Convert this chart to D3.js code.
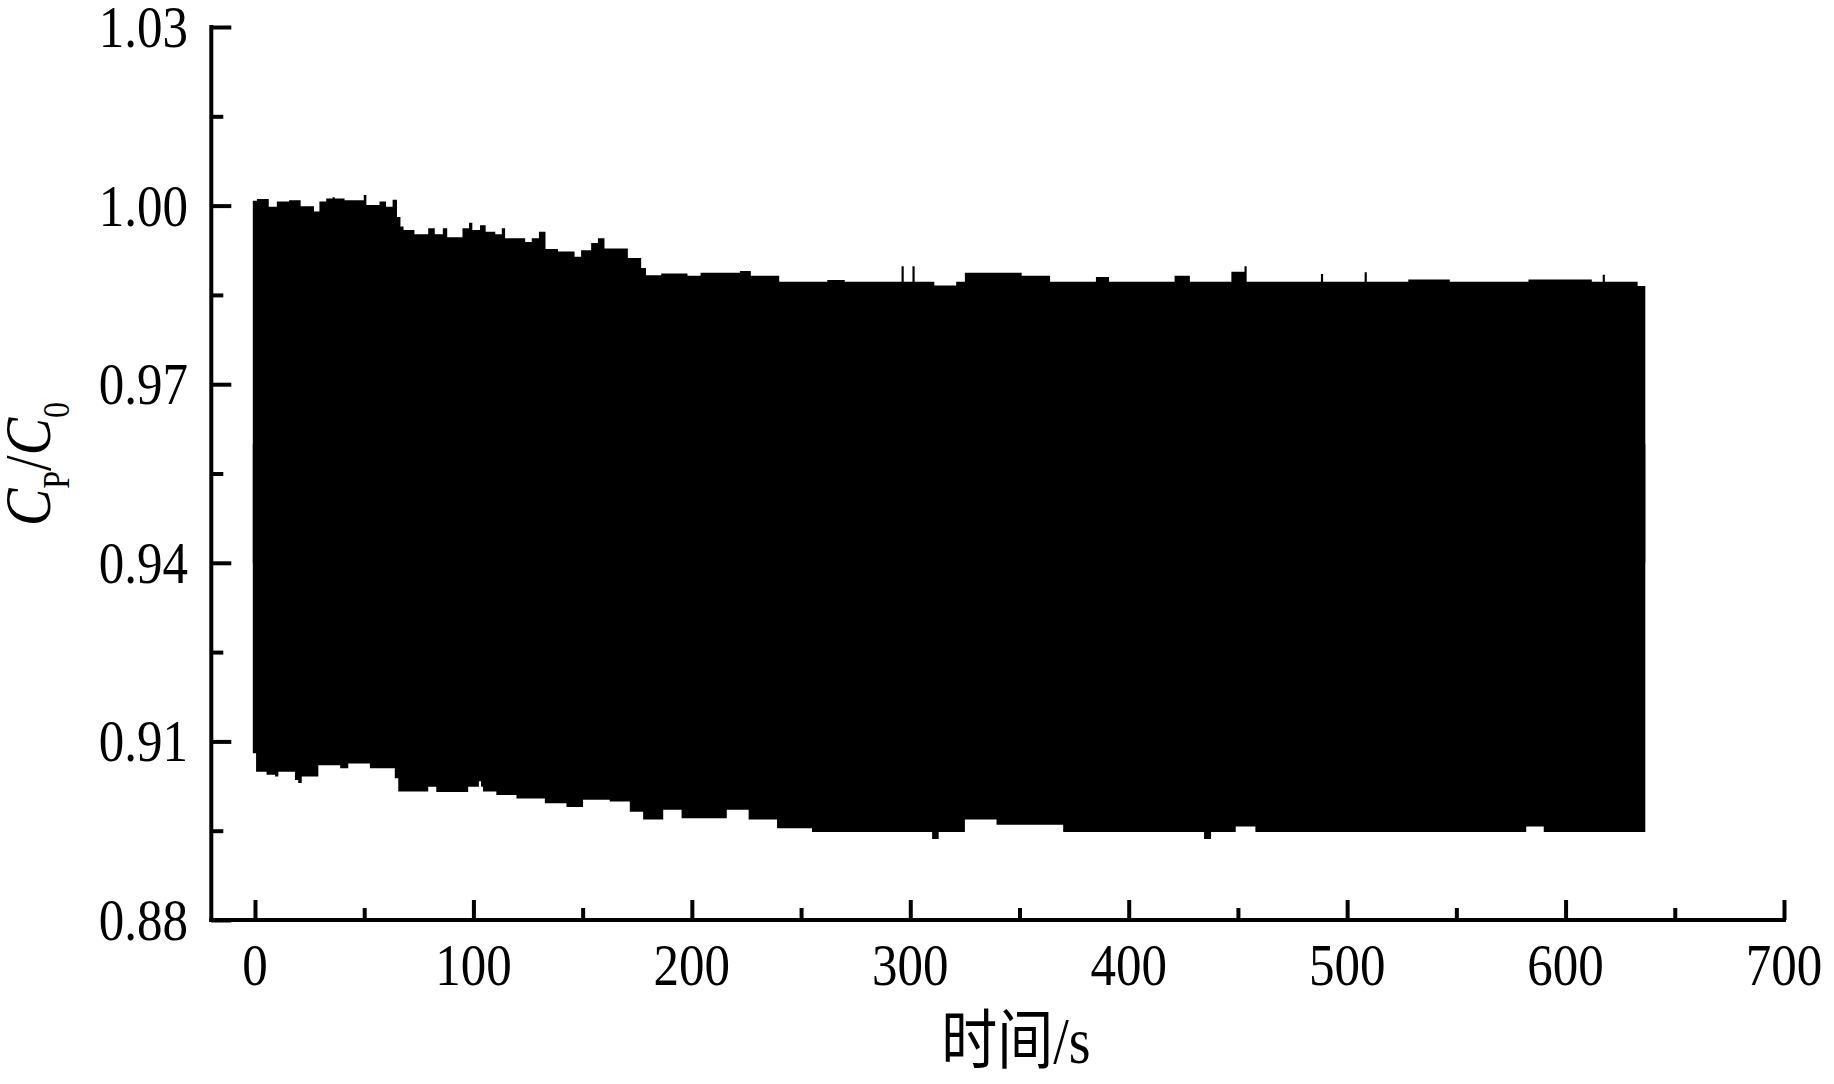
<!DOCTYPE html>
<html lang="zh">

<head>
    <meta charset="utf-8">
    <title>CP/C0</title>
    <script src="https://cdn.jsdelivr.net/npm/d3@7/dist/d3.min.js"></script>
    <style>
        body {
            margin: 0;
            background: #fff;
        }

        .tick-label {
            font-family: "Liberation Serif", "Times New Roman", serif;
            font-size: 51px;
            fill: #000;
        }
    </style>
</head>

<body>
    <script type="text/javascript">
        // upper / lower edge of the band (step after)
        var upperT = [-1, 0.9, 6.3, 10, 15.6, 20.9, 27, 29.5, 32.6, 35.5, 36.5, 41, 49.8, 51, 57, 60, 63, 65, 66.6, 68, 73,
            79.3, 82.3, 86, 88, 95, 98, 99.5, 103, 105.6, 110, 113, 114.5, 123.7, 126.7, 130, 133, 138.7, 146.3, 149.3,
            153.9, 157, 160, 170.7, 176.8, 179, 186, 198, 204, 222, 227, 240, 262, 270, 296, 297, 301, 302, 311, 321,
            325, 351, 364, 385, 391, 421, 428, 447, 453, 454, 488, 489, 508, 509, 528, 547, 583, 612, 617, 618, 633, 636.5];
        var upperV = [1.0008, 1.0011, 0.9998, 1.0007, 1.0009, 0.9999, 0.9990, 1.0007, 1.0012, 1.0014, 1.0012, 1.0009,
            1.0018, 1.0001, 1.0007, 0.9998, 1.0010, 0.9981, 0.9965, 0.9959, 0.9952, 0.9962, 0.9952, 0.9962, 0.9947,
            0.9962, 0.9971, 0.9959, 0.9967, 0.9956, 0.9952, 0.9962, 0.9945, 0.9939, 0.9945, 0.9956, 0.9927, 0.9923,
            0.9914, 0.9925, 0.9937, 0.9945, 0.9928, 0.9912, 0.9895, 0.9883, 0.9886, 0.9882, 0.9887, 0.9890, 0.9882,
            0.9872, 0.9875, 0.9872, 0.9898, 0.9872, 0.9898, 0.9872, 0.9866, 0.9872, 0.9887, 0.9882, 0.9872, 0.9880,
            0.9872, 0.9882, 0.9872, 0.9889, 0.9898, 0.9872, 0.9885, 0.9872, 0.9888, 0.9872, 0.9876, 0.9872, 0.9876,
            0.9872, 0.9884, 0.9872, 0.9865, 0.9865];

        var lowerT = [-1, 0.5, 5.3, 9.2, 10.7, 18.3, 19.8, 21.4, 29, 39, 42.7, 52.6, 64, 65.6, 79.3, 83, 97.6, 102.5,
            103.5, 104.4, 110.5, 119.7, 132.7, 142.6, 150.2, 162.4, 171.6, 177.7, 186.9, 195.3, 216, 226, 239, 255,
            310, 313, 325, 339.5, 370, 434.5, 437.7, 449, 458, 582, 590, 636.5];
        var lowerV = [0.9080, 0.9049, 0.9044, 0.9041, 0.9049, 0.9035, 0.9030, 0.9041, 0.9060, 0.9055, 0.9063, 0.9055,
            0.9038, 0.9016, 0.9024, 0.9015, 0.9024, 0.9033, 0.9024, 0.9016, 0.9010, 0.9004, 0.8996, 0.8990, 0.9002,
            0.8999, 0.8982, 0.8969, 0.8985, 0.8971, 0.8985, 0.8969, 0.8954, 0.8948, 0.8936, 0.8948, 0.8969, 0.8960,
            0.8948, 0.8936, 0.8948, 0.8957, 0.8948, 0.8957, 0.8948, 0.8948];

        var xMajor = [0, 100, 200, 300, 400, 500, 600, 700];
        var xMinor = [50, 150, 250, 350, 450, 550, 650];
        var yMajor = [0.88, 0.91, 0.94, 0.97, 1.00, 1.03];
        var yMinor = [0.895, 0.925, 0.955, 0.985, 1.015];

        var svgWidth = 1834, svgHeight = 1084;
        var stretch = 1.16; // glyphs in the figure are a bit taller than Times

        var svg = d3.select('body')
            .append('svg')
            .attr('width', svgWidth)
            .attr('height', svgHeight);

        var x = d3.scaleLinear().domain([-20, 700]).range([211.3, 1784]);
        var y = d3.scaleLinear().domain([0.88, 1.03]).range([920, 27]);

        function drawBand() {
            var upper = upperT.map((t, i) => ({ t: t, v: upperV[i] }));
            var lower = lowerT.map((t, i) => ({ t: t, v: lowerV[i] }));

            var upArea = d3.area()
                .curve(d3.curveStepAfter)
                .x(d => x(d.t))
                .y0(y(0.94))
                .y1(d => y(d.v));
            var lowArea = d3.area()
                .curve(d3.curveStepAfter)
                .x(d => x(d.t))
                .y0(y(0.96))
                .y1(d => y(d.v));

            svg.append('path').datum(upper).attr('d', upArea).attr('fill', '#000');
            svg.append('path').datum(lower).attr('d', lowArea).attr('fill', '#000');
        }

        function drawAxes() {
            var xb = svg.append('g').attr('transform', 'translate(0,' + y(0.88) + ')');
            xb.call(d3.axisBottom(x).tickValues(xMajor).tickSize(-20).tickSizeOuter(0).tickFormat(''));
            xb.append('g').call(d3.axisBottom(x).tickValues(xMinor).tickSize(-12).tickSizeOuter(0).tickFormat(''));

            var yl = svg.append('g').attr('transform', 'translate(' + x(-20) + ',0)');
            yl.call(d3.axisLeft(y).tickValues(yMajor).tickSize(-20).tickSizeOuter(0).tickFormat(''));
            yl.append('g').call(d3.axisLeft(y).tickValues(yMinor).tickSize(-12).tickSizeOuter(0).tickFormat(''));

            svg.selectAll('.domain').remove();
            svg.selectAll('.tick line').attr('stroke', '#000').attr('stroke-width', 4);

            // axis lines
            svg.append('line')
                .attr('x1', x(-20)).attr('x2', x(700))
                .attr('y1', y(0.88)).attr('y2', y(0.88))
                .attr('stroke', '#000').attr('stroke-width', 4).attr('stroke-linecap', 'square');
            svg.append('line')
                .attr('x1', x(-20)).attr('x2', x(-20))
                .attr('y1', y(0.88)).attr('y2', y(1.03))
                .attr('stroke', '#000').attr('stroke-width', 4).attr('stroke-linecap', 'square');
        }

        function drawLabels() {
            svg.append('g').selectAll('text')
                .data(xMajor)
                .enter().append('text')
                .attr('class', 'tick-label')
                .attr('text-anchor', 'middle')
                .attr('transform', d => 'translate(' + x(d) + ',985) scale(1,' + stretch + ')')
                .text(d => d);

            svg.append('g').selectAll('text')
                .data(yMajor)
                .enter().append('text')
                .attr('class', 'tick-label')
                .attr('text-anchor', 'end')
                .attr('transform', d => 'translate(188,' + (y(d) + 20) + ') scale(1,' + stretch + ')')
                .text(d => d3.format('.2f')(d));

            // x title
            var xt = svg.append('text')
                .attr('text-anchor', 'middle')
                .attr('transform', 'translate(1016,1063) scale(1,' + stretch + ')')
                .style('font-size', '56px');
            xt.append('tspan').style('font-family', '"Noto Sans CJK SC"').text('时间');
            xt.append('tspan').style('font-family', '"Liberation Serif"').style('font-size', '56px').text('/s');

            // y title
            var yt = svg.append('text')
                .attr('text-anchor', 'middle')
                .attr('transform', 'translate(50,464) rotate(-90) scale(1,' + stretch + ')')
                .style('font-family', '"Liberation Serif", serif')
                .style('font-size', '56px');
            yt.append('tspan').style('font-style', 'italic').text('C');
            yt.append('tspan').attr('dy', 16).style('font-size', '32px').text('P');
            yt.append('tspan').attr('dy', -16).text('/');
            yt.append('tspan').style('font-style', 'italic').text('C');
            yt.append('tspan').attr('dy', 16).style('font-size', '32px').text('0');
        }

        drawBand();
        drawAxes();
        drawLabels();
    </script>
</body>

</html>
